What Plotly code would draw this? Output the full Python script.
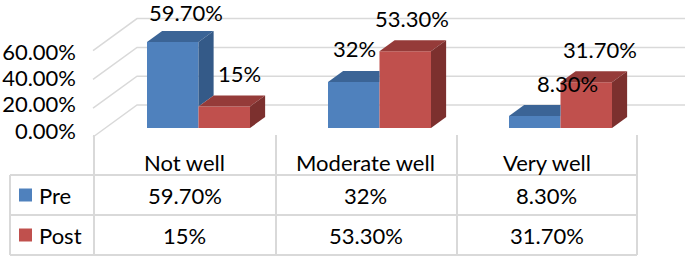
import plotly.graph_objects as go

# ---------------- data ----------------
categories = ["Not well", "Moderate well", "Very well"]
series_names = ["Pre", "Post"]
pre_values = [59.7, 32.0, 8.3]
post_values = [15.0, 53.3, 31.7]
pre_labels = ["59.70%", "32%", "8.30%"]
post_labels = ["15%", "53.30%", "31.70%"]
axis_ticks = [0.0, 0.2, 0.4, 0.6]
grid_values = [0, 20, 40, 60]

# ---------------- style / geometry ----------------
W, H = 685, 256
FONT = "Lato"
FS = 22
PX_X = 181.0            # px per category unit
PX_V = 1.44             # px per percentage point (bar front plane)
X0_PX = 94 + 0.5 * PX_X  # px of category 0 centre
V0_PX = 128             # py of 0 on bar front plane
KX = 1.375              # horizontal px per vertical px of depth
BAR_W = 51.5 / PX_X
PAIR_SHIFT = 14 / PX_X
BAR_DEPTH = 11          # px (vertical) of bar depth
WALL_FRONT_D = -9
WALL_BACK_D = 23
LABEL_LIFT = 22
LABEL_MIN_PY = 13       # labels kept inside the chart area
pre_nudge = [-2, -14, 18]
post_nudge = [0, -8, -1]

BLUE = dict(front="#4F81BD", top="#3B6496", side="#345A88")
RED = dict(front="#C0504D", top="#953B39", side="#7C302E")
GRID = "#D9D9D9"
TXT = "#000000"


def X(px):
    return (px - X0_PX) / PX_X


def Y(py):
    return (V0_PX - py) / PX_V


def proj(x, v, d):
    return x + d * KX / PX_X, v + d / PX_V


def path(points):
    return "M " + " L ".join(f"{x:.5f},{y:.5f}" for x, y in points) + " Z"


fig = go.Figure()
xs = list(range(len(categories)))
fig.add_trace(go.Bar(x=xs, y=pre_values, width=BAR_W, offset=PAIR_SHIFT - BAR_W,
                     marker=dict(color=BLUE["front"], line=dict(width=0)),
                     name=series_names[0], showlegend=False))
fig.add_trace(go.Bar(x=xs, y=post_values, width=BAR_W, offset=PAIR_SHIFT,
                     marker=dict(color=RED["front"], line=dict(width=0)),
                     name=series_names[1], showlegend=False))
fig.add_trace(go.Scatter(x=[None], y=[None], yaxis="y2", showlegend=False, hoverinfo="skip"))

shapes = []
# back wall / side wall gridlines
wall_x = X(105.4)
for v in grid_values:
    p0 = proj(wall_x, v, WALL_FRONT_D)
    p1 = proj(wall_x, v, WALL_BACK_D)
    shapes.append(dict(type="path", xref="x", yref="y", layer="below",
                       path=f"M {p0[0]},{p0[1]} L {p1[0]},{p1[1]} L {X(W)},{p1[1]}",
                       line=dict(color=GRID, width=1.5)))

# 3D faces
for i in xs:
    vb, vr = pre_values[i], post_values[i]
    bx0 = i + PAIR_SHIFT - BAR_W
    bx1 = i + PAIR_SHIFT
    rx0 = bx1
    rx1 = bx1 + BAR_W
    # blue top
    if vr > vb:
        pts = [(bx0, vb), (bx1, vb), (bx1, proj(bx1, vb, BAR_DEPTH)[1]), proj(bx0, vb, BAR_DEPTH)]
    else:
        pts = [(bx0, vb), (bx1, vb), proj(bx1, vb, BAR_DEPTH), proj(bx0, vb, BAR_DEPTH)]
    shapes.append(dict(type="path", xref="x", yref="y", path=path(pts),
                       fillcolor=BLUE["top"], line=dict(width=0)))
    # blue side (visible part above the red bar)
    if vb > vr:
        pts = [(bx1, vr), (bx1, vb), proj(bx1, vb, BAR_DEPTH), proj(bx1, vr, BAR_DEPTH)]
        shapes.append(dict(type="path", xref="x", yref="y", path=path(pts),
                           fillcolor=BLUE["side"], line=dict(width=0)))
    # red top
    pts = [(rx0, vr), (rx1, vr), proj(rx1, vr, BAR_DEPTH), proj(rx0, vr, BAR_DEPTH)]
    shapes.append(dict(type="path", xref="x", yref="y", path=path(pts),
                       fillcolor=RED["top"], line=dict(width=0)))
    # red side
    pts = [(rx1, 0), (rx1, vr), proj(rx1, vr, BAR_DEPTH), proj(rx1, 0, BAR_DEPTH)]
    shapes.append(dict(type="path", xref="x", yref="y", path=path(pts),
                       fillcolor=RED["side"], line=dict(width=0)))

annotations = []
# data labels
for i in xs:
    for vals, labs, nudge, off in ((pre_values, pre_labels, pre_nudge, PAIR_SHIFT - BAR_W / 2),
                                   (post_values, post_labels, post_nudge, PAIR_SHIFT + BAR_W / 2)):
        cx, cy = proj(i + off, vals[i], BAR_DEPTH)
        py = V0_PX - cy * PX_V - LABEL_LIFT
        lift = LABEL_LIFT - max(0, LABEL_MIN_PY - py)
        annotations.append(dict(x=cx, y=cy, xref="x", yref="y", text=labs[i], showarrow=False,
                                xanchor="center", yanchor="middle", xshift=nudge[i], yshift=lift,
                                font=dict(family=FONT, size=FS, color=TXT)))

# data table
TL, TR = 10, 637
col_edges_px = [94, 276, 457, 637]
row_lines_py = [175, 215, 255]
for py in row_lines_py:
    shapes.append(dict(type="line", xref="x", yref="y", x0=X(TL), x1=X(TR), y0=Y(py), y1=Y(py),
                       line=dict(color=GRID, width=2)))
shapes.append(dict(type="line", xref="x", yref="y", x0=X(TL), x1=X(TL), y0=Y(175), y1=Y(255),
                   line=dict(color=GRID, width=2)))
for px in col_edges_px:
    shapes.append(dict(type="line", xref="x", yref="y", x0=X(px), x1=X(px), y0=Y(135), y1=Y(255),
                       line=dict(color=GRID, width=2)))

for i, c in enumerate(categories):
    annotations.append(dict(x=i, y=Y(162), xref="x", yref="y", text=c, showarrow=False,
                            font=dict(family=FONT, size=FS, color=TXT)))
    annotations.append(dict(x=i, y=Y(195), xref="x", yref="y", text=pre_labels[i], showarrow=False,
                            font=dict(family=FONT, size=FS, color=TXT)))
    annotations.append(dict(x=i, y=Y(235), xref="x", yref="y", text=post_labels[i], showarrow=False,
                            font=dict(family=FONT, size=FS, color=TXT)))

for name, col, py in ((series_names[0], BLUE["front"], 195), (series_names[1], RED["front"], 235)):
    shapes.append(dict(type="rect", xref="x", yref="y", x0=X(19), x1=X(32), y0=Y(py + 6.5), y1=Y(py - 6.5),
                       fillcolor=col, line=dict(width=0)))
    annotations.append(dict(x=X(37), y=Y(py), xref="x", yref="y", text=name, showarrow=False,
                            xanchor="left", font=dict(family=FONT, size=FS, color=TXT)))

# y2 range: 0 -> py 131, 0.6 -> py 52
s2 = (131 - 52) / 0.6
fig.update_layout(
    width=W, height=H, autosize=False,
    margin=dict(l=0, r=0, t=0, b=0, pad=0),
    paper_bgcolor="white", plot_bgcolor="white",
    barmode="overlay",
    xaxis=dict(range=[X(0), X(W)], visible=False, domain=[0, 1]),
    yaxis=dict(range=[Y(H), Y(0)], visible=False, domain=[0, 1]),
    yaxis2=dict(overlaying="y", anchor="free", position=76 / W, side="left",
                range=[(131 - H) / s2, 131 / s2], tickvals=axis_ticks, tickformat=".2%",
                showgrid=False, zeroline=False, showline=False, ticks="",
                tickfont=dict(family=FONT, size=FS, color=TXT)),
    shapes=shapes, annotations=annotations, showlegend=False,
)

fig.write_html("out.html", config={"displayModeBar": False},
               post_script="document.body.style.margin='0px';document.body.style.padding='0px';")
